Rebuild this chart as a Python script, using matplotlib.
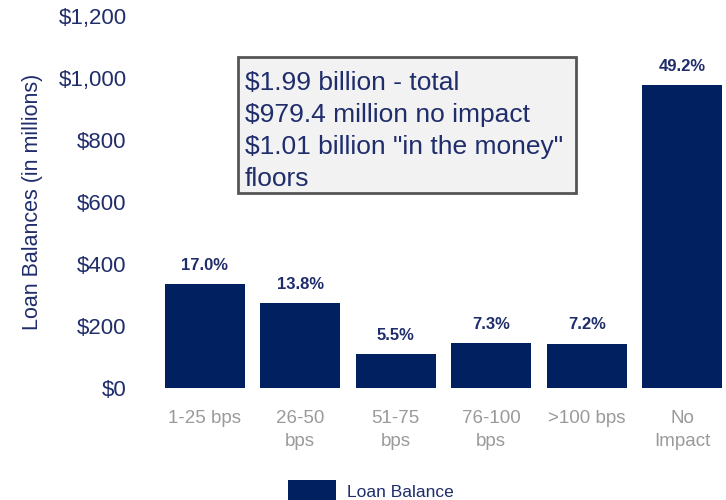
import matplotlib.pyplot as plt
from matplotlib.patches import Rectangle
import numpy as np

plt.rcParams['font.family'] = ['Liberation Sans', 'DejaVu Sans']

categories = ['1-25 bps', '26-50\nbps', '51-75\nbps', '76-100\nbps', '>100 bps', 'No\nImpact']
balances = [336, 272, 108, 144, 142, 979.4]   # $ millions
shares = ['17.0%', '13.8%', '5.5%', '7.3%', '7.2%', '49.2%']
y_ticks = [0, 200, 400, 600, 800, 1000, 1200]
note = '$1.99 billion - total\n$979.4 million no impact\n$1.01 billion "in the money"\nfloors'

navy = '#002060'
text_navy = '#1f2d6b'
grey = '#9a9a9a'

fig = plt.figure(figsize=(7.26, 5.0), dpi=100)
ax = fig.add_axes([157 / 726, 112.5 / 500, 573 / 726, 371 / 500])

x = np.arange(len(categories))
bars = ax.bar(x, balances, width=0.84, color=navy, label='Loan Balance')

for b, s in zip(bars, shares):
    ax.annotate(s, (b.get_x() + b.get_width() / 2, b.get_height()),
                xytext=(0, 8), textcoords='offset points', ha='center', va='bottom',
                fontsize=12, fontweight='bold', color=text_navy)

ax.set_xlim(-0.5, len(categories) - 0.5)
ax.set_ylim(0, 1200)
ax.set_yticks(y_ticks)
ax.set_yticklabels(['${:,}'.format(v) for v in y_ticks], fontsize=16, color=text_navy)
ax.set_xticks(x)
ax.set_xticklabels(categories, fontsize=13.5, color=grey, linespacing=1.45, va='top')
ax.tick_params(axis='both', length=0)
ax.tick_params(axis='y', pad=22)
ax.tick_params(axis='x', pad=16)
for sp in ax.spines.values():
    sp.set_visible(False)

ax.set_ylabel('Loan Balances (in millions)', fontsize=15.5, color=text_navy, labelpad=11)

# summary box
fig.patches.append(Rectangle((238 / 726, 1 - 193 / 500), 338 / 726, 136 / 500,
                             transform=fig.transFigure, facecolor='#f2f2f2',
                             edgecolor='#555555', linewidth=2))
fig.text(245 / 726, 1 - 71 / 500, note, ha='left', va='top', fontsize=19,
         color=text_navy, linespacing=1.42)

fig.legend(handles=[bars], labels=['Loan Balance'], loc='center left',
           bbox_to_anchor=(272 / 726, 1 - 491 / 500), frameon=False, fontsize=12.5,
           handlelength=2.8, handleheight=1.6, handletextpad=0.6, labelcolor=text_navy)

fig.savefig('out.png', dpi=100)
